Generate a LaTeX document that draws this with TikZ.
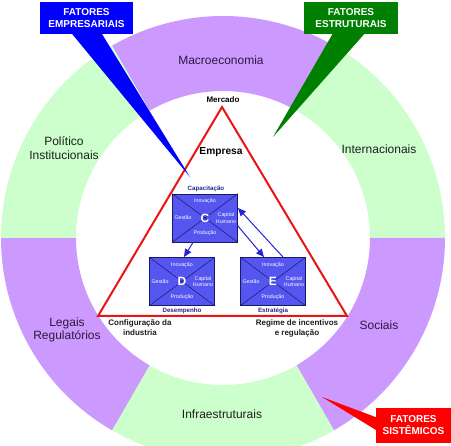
\documentclass[tikz,border=0pt]{standalone}
\usepackage{fontspec}
\setmainfont{Liberation Sans}
\usetikzlibrary{calc,arrows.meta}
\definecolor{ringgreen}{RGB}{204,255,204}
\definecolor{ringpurple}{RGB}{204,153,255}
\definecolor{boxblue}{RGB}{85,85,240}
\definecolor{boxline}{RGB}{25,25,105}
\definecolor{lblblue}{RGB}{40,40,140}
\definecolor{arrblue}{RGB}{35,35,215}
\definecolor{tricol}{RGB}{235,20,20}
\definecolor{ptxt}{RGB}{45,25,60}
\definecolor{gtxt}{RGB}{30,30,30}
\definecolor{calblue}{RGB}{0,0,255}
\definecolor{calgreen}{RGB}{0,128,0}
\definecolor{calred}{RGB}{255,0,0}
\newcommand\ringseg[3]{\fill[#3] ($(cen)+(#1:\Rin)$) arc[start angle=#1,end angle=#2,radius=\Rin] -- ($(cen)+(#2:\Rout)$) arc[start angle=#2,end angle=#1,radius=\Rout] -- cycle;}
\newcommand\mkbox[3]{%
  \node[bx] (#1) at (#2) {};
  \draw[boxline, line width=0.5] (#1.north west)--(#1.south east) (#1.north east)--(#1.south west);
  \node[bxletter] (#1l) at (#1) {#3};
  \node[bxtxt] (#1i) at ($(#1.north)+(0,8)$) {Inovação};
  \node[bxtxt] (#1p) at ($(#1.south)+(0,-9)$) {Produção};
  \node[bxtxt] (#1g) at ($(#1.west)+(11,0)$) {Gestão};
  \node[bxtxt,align=center] (#1h) at ($(#1.east)+(-12,0)$) {Capital\\Humano};
}
\begin{document}
\begin{tikzpicture}[x=1pt,y=-1pt,
  ringtxt/.style={inner sep=0pt,font=\fontsize{12}{13.5}\selectfont,align=center},
  bx/.style={draw=boxline,line width=0.9,fill=boxblue,minimum width=65pt,minimum height=48pt,inner sep=0pt},
  bxletter/.style={text=white,font=\bfseries\fontsize{12}{12}\selectfont,inner sep=0pt},
  bxtxt/.style={text=white,font=\fontsize{5.3}{6.3}\selectfont,inner sep=0pt},
  bxlbl/.style={text=lblblue,font=\bfseries\fontsize{6.2}{7}\selectfont,inner sep=0pt},
  botlbl/.style={text=gtxt,font=\bfseries\fontsize{8}{10}\selectfont,inner sep=0pt,align=center},
  callout/.style={text=white,font=\bfseries\fontsize{10}{12}\selectfont,inner sep=0pt,align=center},
  conn/.style={arrblue,line width=1,-{Triangle[length=8pt,width=7pt]}}]
\useasboundingbox (0,0) rectangle (451,446);
\fill[white] (0,0) rectangle (451,446);
\coordinate (cen) at (223,238);
\def\Rin{147}\def\Rout{222}
\ringseg{240}{300}{ringpurple}
\ringseg{300}{360}{ringgreen}
\ringseg{0}{60}{ringpurple}
\ringseg{60}{120}{ringgreen}
\ringseg{120}{180}{ringpurple}
\ringseg{180}{240}{ringgreen}
% ring labels
\node[ringtxt,text=ptxt] (macro) at (221,60) {Macroeconomia};
\node[ringtxt,text=gtxt] (polit) at (64,148) {Político\\Institucionais};
\node[ringtxt,text=gtxt] (inter) at (379,149) {Internacionais};
\node[ringtxt,text=ptxt] (legais) at (67,330) {Legais\\Regulatórios};
\node[ringtxt,text=ptxt] (soc) at (379,325) {Sociais};
\node[ringtxt,text=gtxt] (infra) at (222,414) {Infraestruturais};
% triangle
\coordinate (tA) at (222,107);
\coordinate (tL) at (98,316);
\coordinate (tR) at (347,316);
\draw[tricol,line width=2,line join=miter] (tA)--(tL)--(tR)--cycle;
\node[inner sep=0pt,font=\bfseries\fontsize{8}{8}\selectfont] (merc) at (223,100) {Mercado};
\node[inner sep=0pt,font=\bfseries\fontsize{10.2}{11}\selectfont] (emp) at (221,152) {Empresa};
% boxes
\mkbox{C}{205,218}{C}
\mkbox{D}{182,281.5}{D}
\mkbox{E}{273,281.5}{E}
\node[bxlbl] (cap) at ($(C.north)+(1,-5)$) {Capacitação};
\node[bxlbl] (des) at ($(D.south)+(0,5)$) {Desempenho};
\node[bxlbl] (est) at ($(E.south)+(0,5)$) {Estratégia};
% arrows
\draw[conn] ($(C.south)+(-12,0)$) -- ($(D.north)+(2,0)$);
\draw[conn] ($(C.east)+(0,8)$) -- ($(E.north)+(-9,0)$);
\draw[conn] ($(E.north)+(10,0)$) -- ($(C.east)+(0,-10)$);
% bottom labels
\node[botlbl] (conf) at (140,328) {Configuração da\\industria};
\node[botlbl] (reg) at (297,328) {Regime de incentivos\\e regulação};
% callouts
\node[callout,fill=calblue,minimum width=93pt,minimum height=32pt] (fe) at (86.5,18) {FATORES\\EMPRESARIAIS};
\coordinate (feTip) at (190,177);
\fill[calblue] ($(fe.south)+(-15,-1)$) -- ($(fe.south)+(15,-1)$) -- (feTip) -- cycle;
\node[callout,fill=calgreen,minimum width=94pt,minimum height=32pt] (fs) at (351,18) {FATORES\\ESTRUTURAIS};
\coordinate (fsTip) at (273,137);
\fill[calgreen] ($(fs.south)+(-18,-1)$) -- ($(fs.south)+(14,-1)$) -- (fsTip) -- cycle;
\node[callout,fill=calred,minimum width=75pt,minimum height=35pt] (fsi) at (413.5,425.5) {FATORES\\SISTÊMICOS};
\coordinate (fsiTip) at (322,397);
\fill[calred] ($(fsi.west)+(1,-8)$) -- ($(fsi.west)+(1,5)$) -- (fsiTip) -- cycle;
\end{tikzpicture}
\end{document}
